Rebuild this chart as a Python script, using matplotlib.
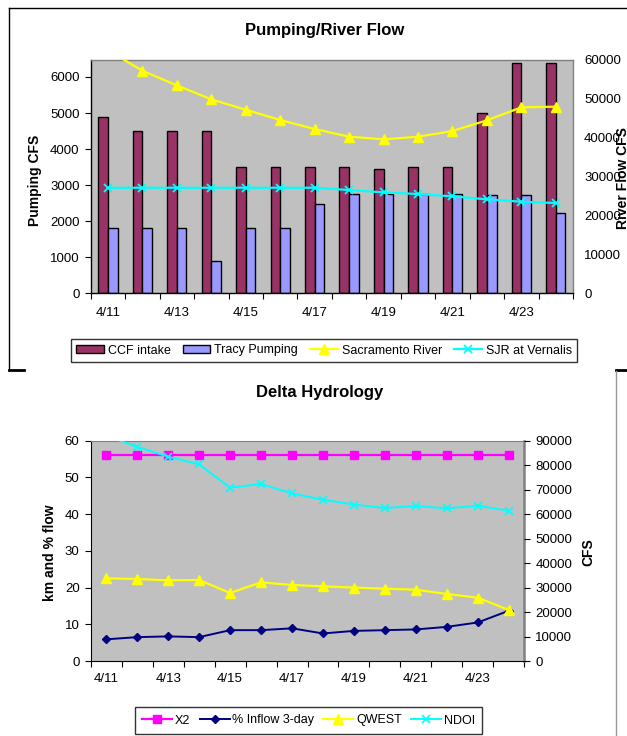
import matplotlib
matplotlib.use('Agg')
import matplotlib.pyplot as plt
from matplotlib.lines import Line2D
import numpy as np

plt.rcParams['font.family'] = ['Liberation Sans', 'DejaVu Sans']

# ---------------- data ----------------
dates = ['4/11', '4/12', '4/13', '4/14', '4/15', '4/16', '4/17',
         '4/18', '4/19', '4/20', '4/21', '4/22', '4/23', '4/24']

# Pumping/River Flow
ccf_intake = [4900, 4500, 4500, 4500, 3500, 3500, 3500, 3500, 3450, 3500, 3500, 5000, 6380, 6380]
tracy_pumping = [1820, 1820, 1820, 900, 1820, 1820, 2470, 2750, 2750, 2750, 2750, 2730, 2730, 2220]
sacramento_river = [62500, 57240, 53480, 49880, 47210, 44560, 42250, 40270, 39600, 40270, 41730, 44480, 47830, 47990]
sjr_vernalis = [27150, 27150, 27150, 27150, 27150, 27150, 27150, 26560, 25960, 25530, 24940, 24170, 23560, 23220]

# Delta Hydrology
x2 = [56, 56, 56, 56, 56, 56, 56, 56, 56, 56, 56, 56, 56, 56]
inflow_3day = [5.9, 6.5, 6.7, 6.5, 8.4, 8.4, 8.9, 7.5, 8.2, 8.4, 8.6, 9.3, 10.5, 13.7]
qwest = [33780, 33500, 32960, 33090, 27780, 32140, 31050, 30500, 30000, 29540, 29130, 27370, 25860, 20830]
ndoi = [92000, 87540, 83460, 80340, 70800, 72300, 68500, 65900, 63900, 62500, 63320, 62370, 63450, 61400]

# ---------------- styling ----------------
W, H = 627, 736
fig = plt.figure(figsize=(W / 100, H / 100), dpi=100)
fig.patch.set_facecolor('white')

PLOT_BG = '#C0C0C0'
BORDER = '#808080'
TICK_FS = 9.5
LAB_FS = 10
TITLE_FS = 12
LEG_FS = 9


def fr(x0, y0, x1, y1):
    """pixel box (top-left origin) -> figure fraction rect"""
    return [x0 / W, 1 - y1 / H, (x1 - x0) / W, (y1 - y0) / H]


def setup_cat_axis(ax, n, pad):
    ax.set_xlim(-0.5, n - 0.5)
    ax.set_xticks(np.arange(0, n, 2))
    ax.set_xticklabels(dates[::2], fontsize=TICK_FS)
    ax.set_xticks(np.arange(-0.5, n, 1), minor=True)
    ax.tick_params(axis='x', which='major', length=0, pad=pad)
    ax.tick_params(axis='x', which='minor', length=4, width=0.8, color='black', direction='out')


n = len(dates)
x = np.arange(n)

# ================= Top chart =================
ax1 = fig.add_axes(fr(90.7, 60, 573, 293.3))
ax1.set_facecolor(PLOT_BG)
bw = 0.28
ax1.bar(x - bw / 2, ccf_intake, width=bw, color='#993366', edgecolor='black', linewidth=1.0,
        label='CCF intake', zorder=2)
ax1.bar(x + bw / 2, tracy_pumping, width=bw, color='#9999FF', edgecolor='black', linewidth=1.0,
        label='Tracy Pumping', zorder=2)
ax1.set_ylim(0, 6470)
ax1.set_yticks(np.arange(0, 6001, 1000))
ax1.tick_params(axis='y', labelsize=TICK_FS, length=4, width=0.8, direction='out', pad=4)
setup_cat_axis(ax1, n, pad=10)
ax1.spines['left'].set_color('black')
ax1.spines['bottom'].set_color('black')
ax1.spines['top'].set_color(BORDER)
ax1.spines['right'].set_color(BORDER)
for s in ax1.spines.values():
    s.set_linewidth(1.0)
ax1.set_ylabel('Pumping CFS', fontsize=LAB_FS, fontweight='bold')
ax1.yaxis.set_label_coords(42 / W, 1 - 180 / H, transform=fig.transFigure)

ax1r = ax1.twinx()
ax1r.plot(x, sacramento_river, color='#FFFF00', lw=1.6, marker='^', ms=6.5,
          mfc='#FFFF00', mec='#FFFF00', label='Sacramento River', zorder=3)
ax1r.plot(x, sjr_vernalis, color='#00FFFF', lw=1.6, marker='x', ms=5.5, mew=1.3,
          mec='#00FFFF', label='SJR at Vernalis', zorder=3)
ax1r.set_ylim(0, 60000)
ax1r.set_yticks(np.arange(0, 60001, 10000))
ax1r.tick_params(axis='y', labelsize=TICK_FS, length=0, pad=8)
for s in ax1r.spines.values():
    s.set_visible(False)
ax1r.set_ylabel('River Flow CFS', fontsize=LAB_FS, fontweight='bold')
ax1r.yaxis.set_label_coords(616 / W, 1 - 178 / H, transform=fig.transFigure)

fig.text(325 / W, 1 - 31 / H, 'Pumping/River Flow', ha='center', va='center',
         fontsize=TITLE_FS, fontweight='bold')

h1, l1 = ax1.get_legend_handles_labels()
h2, l2 = ax1r.get_legend_handles_labels()
leg1 = fig.legend(h1 + h2, l1 + l2, loc='center', bbox_to_anchor=(324 / W, 1 - 350.5 / H),
                  ncol=4, fontsize=LEG_FS, frameon=True, fancybox=False, edgecolor='black',
                  handlelength=2.2, handleheight=0.6, handletextpad=0.3, columnspacing=1.0,
                  borderpad=0.45)
leg1.get_frame().set_linewidth(1.0)

# ================= Bottom chart =================
ax2 = fig.add_axes(fr(90.7, 440.7, 524.3, 661))
ax2.set_facecolor(PLOT_BG)
ax2.plot(x, x2, color='#FF00FF', lw=1.6, marker='s', ms=6, mfc='#FF00FF', mec='#FF00FF',
         label='X2', zorder=3)
ax2.plot(x, inflow_3day, color='#000080', lw=1.4, marker='D', ms=4.5, mfc='#000080', mec='#000080',
         label='% Inflow 3-day', zorder=3)
ax2.set_ylim(0, 60)
ax2.set_yticks(np.arange(0, 61, 10))
ax2.tick_params(axis='y', labelsize=TICK_FS, length=4, width=0.8, direction='out', pad=4)
setup_cat_axis(ax2, n, pad=9)
ax2.spines['left'].set_color('black')
ax2.spines['bottom'].set_color('black')
ax2.spines['top'].set_color(BORDER)
ax2.spines['right'].set_color(BORDER)
ax2.spines['right'].set_linewidth(1.8)
ax2.set_ylabel('km and % flow', fontsize=LAB_FS, fontweight='bold')
ax2.yaxis.set_label_coords(57 / W, 1 - 553 / H, transform=fig.transFigure)

ax2r = ax2.twinx()
ax2r.plot(x, qwest, color='#FFFF00', lw=1.6, marker='^', ms=6.5, mfc='#FFFF00', mec='#FFFF00',
          label='QWEST', zorder=3)
ax2r.plot(x, ndoi, color='#00FFFF', lw=1.4, marker='x', ms=5.5, mew=1.2, mec='#00FFFF',
          label='NDOI', zorder=3)
ax2r.set_ylim(0, 90000)
ax2r.set_yticks(np.arange(0, 90001, 10000))
ax2r.tick_params(axis='y', labelsize=TICK_FS, length=4, width=0.8, direction='out', pad=4,
                 color='black')
for k, s in ax2r.spines.items():
    s.set_visible(False)
ax2r.set_ylabel('CFS', fontsize=LAB_FS, fontweight='bold')
ax2r.yaxis.set_label_coords(581 / W, 1 - 552 / H, transform=fig.transFigure)

fig.text(320 / W, 1 - 393 / H, 'Delta Hydrology', ha='center', va='center',
         fontsize=TITLE_FS, fontweight='bold')

h3, l3 = ax2.get_legend_handles_labels()
h4, l4 = ax2r.get_legend_handles_labels()
leg2 = fig.legend(h3 + h4, l3 + l4, loc='upper center', bbox_to_anchor=(308.5 / W, 1 - 707 / H),
                  ncol=4, fontsize=LEG_FS, frameon=True, fancybox=False, edgecolor='black',
                  handlelength=2.4, handletextpad=0.2, columnspacing=0.75,
                  borderpad=0.6, borderaxespad=0)
leg2.get_frame().set_linewidth(1.0)

# ---------------- chart frame fragments ----------------
frame_kw = dict(color='black', lw=1.0, transform=fig.transFigure)


def fl(xs, ys, **kw):
    fig.add_artist(Line2D([v / W for v in xs], [1 - v / H for v in ys], **kw))


fl([8.8, 627], [7.5, 7.5], **frame_kw)
fl([8.8, 8.8], [7.5, 369.5], **frame_kw)
fl([8.8, 24], [369.5, 369.5], color='black', lw=2.0, transform=fig.transFigure)
fl([616, 627], [369.5, 369.5], color='black', lw=2.0, transform=fig.transFigure)
fl([616, 616], [371, 736], color='#999999', lw=1.0, transform=fig.transFigure)

fig.savefig('out.png', dpi=100)
